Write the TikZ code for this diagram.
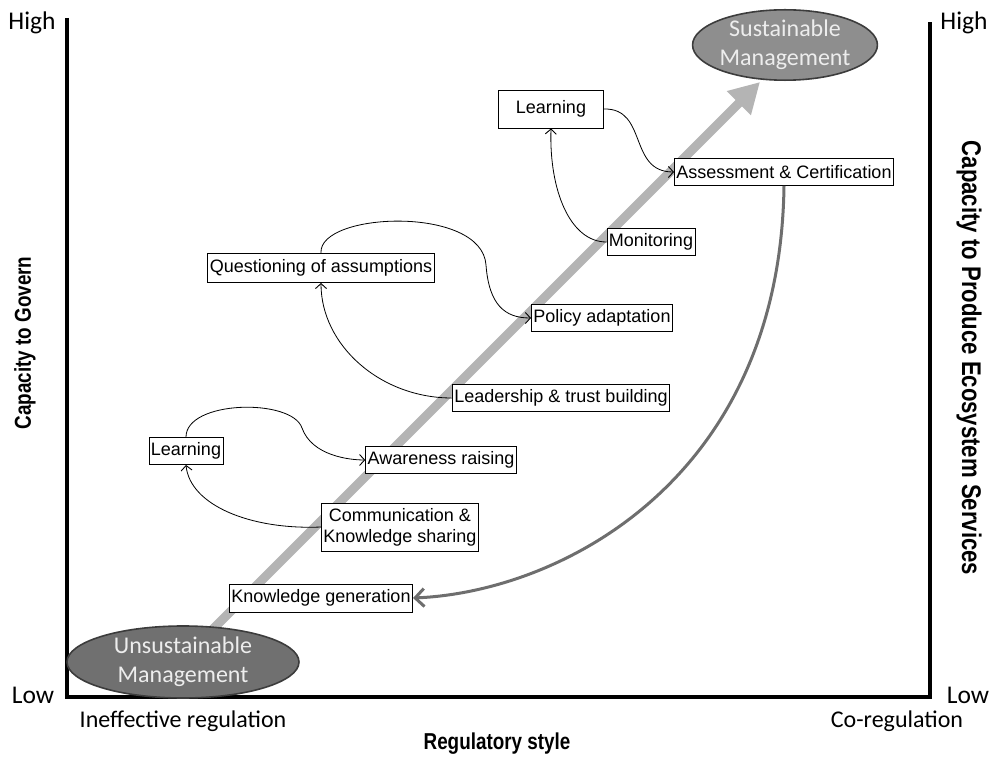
\documentclass[tikz,border=0pt]{standalone}
\usepackage{fontspec}
\setmainfont{Liberation Sans}
\newfontfamily\calfont{Carlito}
\newfontfamily\narrowfont{Liberation Sans}[FakeStretch=0.82]
\usetikzlibrary{arrows.meta,shapes.geometric}
\definecolor{ellA}{HTML}{8E8E8E}
\definecolor{ellB}{HTML}{707070}
\definecolor{ellBorder}{HTML}{3C3C3C}
\definecolor{ellText}{HTML}{EDEDED}
\definecolor{mainArrow}{HTML}{B4B4B4}
\definecolor{backArrow}{HTML}{6E6E6E}
\tikzset{
  boxnode/.style={draw, line width=0.9pt, fill=white, inner xsep=2pt, inner ysep=0pt,
    minimum height=27pt, font=\fontsize{18}{21}\selectfont, align=center},
  ellnode/.style={ellipse, draw=ellBorder, line width=1.6pt, text=ellText, inner sep=0pt,
    font=\calfont\fontsize{24}{29}\selectfont, align=center},
  axislabel/.style={font=\calfont\fontsize{24}{27}\selectfont, inner sep=0pt},
  hilolabel/.style={font=\calfont\fontsize{25.5}{28}\selectfont, inner sep=0pt},
  axistitle/.style={font=\narrowfont\bfseries\fontsize{23}{26}\selectfont, inner sep=0pt},
  thinlink/.style={line width=0.8pt, -{Straight Barb[length=5pt,width=11pt,line width=0.9pt]}},
}
\begin{document}
\begin{tikzpicture}[x=1pt,y=-1pt]
\useasboundingbox (0,0) rectangle (994,759);
% axes
\coordinate (tl) at (67,18);
\coordinate (bl) at (67,697);
\coordinate (br) at (930,697);
\coordinate (tr) at (930,22);
\draw[line width=4pt, line join=miter] (tl) -- (bl) -- (br) -- (tr);

% axis labels
\node[hilolabel] (highL) at (32,23) {High};
\node[hilolabel] (lowL) at (33,695) {Low};
\node[hilolabel] (highR) at (964,23) {High};
\node[hilolabel] (lowR) at (968,695) {Low};
\node[axislabel] (ineff) at (183,721) {Ineffective regulation};
\node[axislabel] (coreg) at (897,721) {Co-regulation};
\node[axistitle] (regstyle) at (497,744) {Regulatory style};
\node[axistitle, rotate=90] (govern) at (25,343) {Capacity to Govern};
\node[axistitle, rotate=-90, font=\narrowfont\bfseries\fontsize{27}{29}\selectfont] (ecos) at (969,358) {Capacity to Produce Ecosystem Services};

% main arrow
\coordinate (mstart) at (192,650);
\coordinate (mend) at (760,82);
\draw[mainArrow, line width=9pt, -{Triangle[length=30pt,width=32pt]}] (mstart) -- (mend);

% ellipses
\node[ellnode, fill=ellB, minimum width=232pt, minimum height=72pt] (unsus) at (183,662) {Unsustainable\\Management};
\node[ellnode, fill=ellA, minimum width=180pt, minimum height=62pt] (sus) at (785,45) {Sustainable\\Management};

% boxes
\node[boxnode, minimum width=105pt, minimum height=38pt] (learnT) at (551,109) {Learning};
\node[boxnode] (assess) at (784,172) {Assessment \& Certification};
\node[boxnode] (monit) at (651,242) {Monitoring};
\node[boxnode, minimum height=29pt] (quest) at (321,268) {Questioning of assumptions};
\node[boxnode] (policy) at (602,318) {Policy adaptation};
\node[boxnode] (leader) at (561,398) {Leadership \& trust building};
\node[boxnode] (learnL) at (186,451) {Learning};
\node[boxnode] (aware) at (441,460) {Awareness raising};
\node[boxnode, minimum height=48pt] (comm) at (400,527) {Communication \&\\Knowledge sharing};
\node[boxnode, minimum height=28pt] (kgen) at (321,598) {Knowledge generation};

% thin connectors
\draw[thinlink] (learnT.east) .. controls (648,108) and (628,172) .. (assess.west);
\draw[thinlink] (monit.west) .. controls (570,242) and (549,190) .. (learnT.south);
\draw[thinlink] (quest.north) .. controls (318,212) and (482,205) .. (486,265)
  .. controls (489,305) and (505,318) .. (policy.west);
\draw[thinlink] (leader.west) .. controls (380,398) and (321,345) .. (quest.south);
\draw[thinlink] (learnL.north) .. controls (186,400) and (292,398) .. (302,428)
  .. controls (312,456) and (350,460) .. (aware.west);
\draw[thinlink] (comm.west) .. controls (250,530) and (190,505) .. (learnL.south);

% thick return arrow
\draw[backArrow, line width=3pt, -{Straight Barb[length=9pt,width=18pt,line width=3pt]}]
  (assess.south) .. controls (780,480) and (560,592) .. (kgen.east);
\end{tikzpicture}
\end{document}
